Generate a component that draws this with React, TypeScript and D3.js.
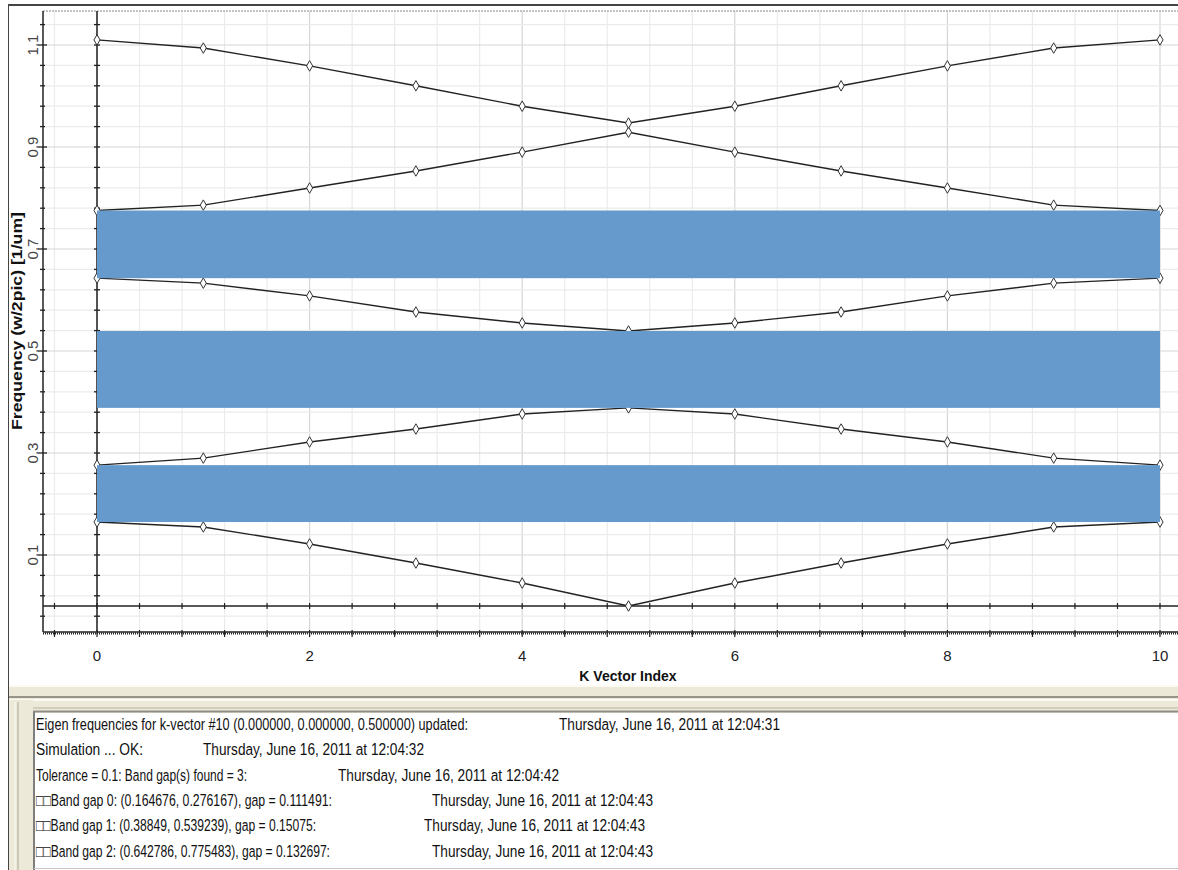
import React from 'react';
import * as d3 from 'd3';

// ---------- data ----------
const kIndex = [0, 1, 2, 3, 4, 5, 6, 7, 8, 9, 10];
const band1 = [0.1647, 0.155, 0.1216, 0.0843, 0.045, 0.0, 0.045, 0.0843, 0.1216, 0.155, 0.1647];
const band2 = [0.2762, 0.29, 0.3216, 0.347, 0.3765, 0.3885, 0.3765, 0.347, 0.3216, 0.29, 0.2762];
const band3 = [0.6428, 0.633, 0.608, 0.5765, 0.555, 0.5392, 0.555, 0.5765, 0.608, 0.633, 0.6428];
const band4 = [0.7755, 0.786, 0.8196, 0.853, 0.89, 0.929, 0.89, 0.853, 0.8196, 0.786, 0.7755];
const band5 = [1.11, 1.094, 1.059, 1.02, 0.98, 0.947, 0.98, 1.02, 1.059, 1.094, 1.11];
const gapLow = [0.164676, 0.38849, 0.642786];
const gapHigh = [0.276167, 0.539239, 0.775483];
const xTickLabels = [0, 2, 4, 6, 8, 10];
const yTickLabels = [0.1, 0.3, 0.5, 0.7, 0.9, 1.1];
const logMessages = [
  'Eigen frequencies for k-vector #10 (0.000000, 0.000000, 0.500000) updated:',
  'Simulation ... OK:',
  'Tolerance = 0.1: Band gap(s) found = 3:',
  '\u25A1\u25A1Band gap 0: (0.164676, 0.276167), gap = 0.111491:',
  '\u25A1\u25A1Band gap 1: (0.38849, 0.539239), gap = 0.15075:',
  '\u25A1\u25A1Band gap 2: (0.642786, 0.775483), gap = 0.132697:',
];
const logTimes = [
  'Thursday, June 16, 2011 at 12:04:31',
  'Thursday, June 16, 2011 at 12:04:32',
  'Thursday, June 16, 2011 at 12:04:42',
  'Thursday, June 16, 2011 at 12:04:43',
  'Thursday, June 16, 2011 at 12:04:43',
  'Thursday, June 16, 2011 at 12:04:43',
];

const bands = [band1, band2, band3, band4, band5];

export default function App() {
  const W = 1178;
  const H = 870;
  const x = d3.scaleLinear().domain([-0.5, 10.5]).range([43.85, 1213.15]);
  const y = d3.scaleLinear().domain([-0.05, 1.167]).range([631.5, 10.83]);
  const plotL = 43, plotT = 11, plotB = 632, plotR = W;

  const xGrid = d3.range(-1, 27).map((i) => ({ v: i * 0.4, major: i % 5 === 0 }));
  const yGrid = d3.range(-3, 27).map((i) => ({ v: 0.1 + i * 0.04, major: i % 5 === 0 }));

  const line = d3
    .line<number>()
    .x((_, i) => x(kIndex[i]))
    .y((d) => y(d));
  const diamond = d3.symbol().type(d3.symbolDiamond).size(32)();

  // layout for log text (pixel positions)
  const msgW = [432, 107, 211, 296, 280, 294];
  const timeX = [559, 203, 338, 432, 424, 432];
  const timeW = 221;
  const font = '"Liberation Sans", Arial, sans-serif';

  return (
    <svg
      width={W}
      height={H}
      style={{ position: 'absolute', left: 0, top: 0, background: '#fff' }}
      fontFamily={font}
    >
      <defs>
        <clipPath id="plotclip">
          <rect x={plotL} y={plotT} width={plotR - plotL} height={plotB - plotT} />
        </clipPath>
      </defs>
      {/* outer frame */}
      <line x1={8} x2={W} y1={5} y2={5} stroke="#444" strokeWidth={2} />
      <line x1={8.5} x2={8.5} y1={4} y2={H} stroke="#444" strokeWidth={1} />

      {/* gridlines */}
      <g clipPath="url(#plotclip)">
        {xGrid.map((g, i) => (
          <line
            key={'xg' + i}
            x1={x(g.v)}
            x2={x(g.v)}
            y1={plotT}
            y2={plotB}
            stroke={g.major ? '#d6d6d6' : '#ebebeb'}
            strokeWidth={1.2}
          />
        ))}
        {yGrid.map((g, i) => (
          <line
            key={'yg' + i}
            x1={plotL}
            x2={plotR}
            y1={y(g.v)}
            y2={y(g.v)}
            stroke={g.major ? '#d6d6d6' : '#ebebeb'}
            strokeWidth={1.2}
          />
        ))}
      </g>

      {/* top dotted border */}
      <line x1={plotL} x2={plotR} y1={plotT} y2={plotT} stroke="#888" strokeWidth={1} strokeDasharray="2 1" />

      {/* left axis */}
      <line x1={plotL} x2={plotL} y1={plotT} y2={plotB} stroke="#222" strokeWidth={1.5} />
      {yGrid.map((g, i) => (
        <line
          key={'lt' + i}
          x1={plotL - (g.major ? 5 : 3)}
          x2={plotL + (g.major ? 4 : 2)}
          y1={y(g.v)}
          y2={y(g.v)}
          stroke="#222"
          strokeWidth={1.3}
        />
      ))}
      {yTickLabels.map((v) => (
        <text
          key={'yl' + v}
          transform={`translate(${32},${y(v)}) rotate(-90)`}
          textAnchor="middle"
          dominantBaseline="central"
          fontSize={15}
          fill="#444"
        >
          {v}
        </text>
      ))}
      <text
        transform={`translate(${17},${321}) rotate(-90)`}
        textAnchor="middle"
        dominantBaseline="central"
        fontSize={14}
        fontWeight="bold"
        fill="#111"
        textLength={218}
        lengthAdjust="spacingAndGlyphs"
      >
        Frequency (w/2pic) [1/um]
      </text>

      {/* vertical zero axis */}
      <line x1={x(0)} x2={x(0)} y1={plotT} y2={plotB} stroke="#222" strokeWidth={1.5} />
      {yGrid.map((g, i) => (
        <line
          key={'vt' + i}
          x1={x(0) - 3}
          x2={x(0) + 3}
          y1={y(g.v)}
          y2={y(g.v)}
          stroke="#222"
          strokeWidth={1.3}
        />
      ))}

      {/* horizontal zero axis */}
      <line x1={plotL} x2={plotR} y1={y(0)} y2={y(0)} stroke="#222" strokeWidth={1.5} />
      {xGrid.map((g, i) => (
        <line
          key={'ht' + i}
          x1={x(g.v)}
          x2={x(g.v)}
          y1={y(0) - 3}
          y2={y(0) + 3}
          stroke="#222"
          strokeWidth={1.2}
        />
      ))}

      {/* bottom axis */}
      <line x1={plotL} x2={plotR} y1={plotB} y2={plotB} stroke="#222" strokeWidth={1.3} />
      <line x1={plotL} x2={plotR} y1={plotB + 1.5} y2={plotB + 1.5} stroke="#222" strokeWidth={2} strokeDasharray="1 1" />
      {xGrid.map((g, i) => (
        <line
          key={'bt' + i}
          x1={x(g.v)}
          x2={x(g.v)}
          y1={plotB - 2}
          y2={plotB + 5}
          stroke="#222"
          strokeWidth={1.2}
        />
      ))}
      {xTickLabels.map((v) => (
        <text key={'xl' + v} x={x(v)} y={655} textAnchor="middle" dominantBaseline="central" fontSize={15} fill="#222">
          {v}
        </text>
      ))}
      <text x={628} y={676} textAnchor="middle" dominantBaseline="central" fontSize={14} fontWeight="bold" fill="#111">
        K Vector Index
      </text>

      {/* band curves */}
      <g clipPath="url(#plotclip)">
        {bands.map((b, bi) => (
          <g key={'b' + bi}>
            <path d={line(b) || ''} fill="none" stroke="#222" strokeWidth={1.4} />
            {b.map((v, i) => (
              <path
                key={i}
                d={diamond}
                transform={`translate(${x(kIndex[i])},${y(v)})`}
                fill="#fff"
                stroke="#333"
                strokeWidth={1}
              />
            ))}
          </g>
        ))}
        {/* band gaps */}
        {gapLow.map((lo, i) => (
          <rect
            key={'gap' + i}
            x={x(kIndex[0])}
            width={x(kIndex[kIndex.length - 1]) - x(kIndex[0])}
            y={y(gapHigh[i])}
            height={y(lo) - y(gapHigh[i])}
            fill="#6699cc"
          />
        ))}
      </g>

      {/* splitter */}
      <rect x={9} y={685} width={W - 9} height={28} fill="#ece9d8" />
      <line x1={9} x2={W} y1={686} y2={686} stroke="#fbfaf3" strokeWidth={2} />
      <line x1={9} x2={W} y1={697} y2={697} stroke="#7b796c" strokeWidth={1.5} />
      <line x1={9} x2={W} y1={700} y2={700} stroke="#fbfaf3" strokeWidth={2} />
      <line x1={9} x2={W} y1={708} y2={708} stroke="#d2cebc" strokeWidth={2} />
      <line x1={9} x2={W} y1={711.5} y2={711.5} stroke="#8f8e86" strokeWidth={2} />
      {/* left beige strip */}
      <rect x={9} y={700} width={24} height={H - 700} fill="#ece9d8" />
      <line x1={15} x2={15} y1={702} y2={H} stroke="#fbfaf3" strokeWidth={1} />
      <line x1={18} x2={18} y1={702} y2={H} stroke="#aca899" strokeWidth={1} />
      {/* log box */}
      <rect x={34} y={713} width={W - 34} height={156} fill="#fff" />
      <line x1={34} x2={34} y1={712} y2={H} stroke="#7f7f7f" strokeWidth={2} />
      <line x1={34} x2={W} y1={868.5} y2={868.5} stroke="#c8c8c8" strokeWidth={1} />

      {logMessages.map((m, i) => {
        const base = 730 + i * 25.3;
        return (
          <g key={'log' + i} fontSize={12.5} fill="#111">
            <text
              transform={`translate(36,${base}) scale(1,1.35)`}
              textLength={msgW[i]}
              lengthAdjust="spacingAndGlyphs"
            >
              {m}
            </text>
            <text
              transform={`translate(${timeX[i]},${base}) scale(1,1.35)`}
              textLength={timeW}
              lengthAdjust="spacingAndGlyphs"
            >
              {logTimes[i]}
            </text>
          </g>
        );
      })}
    </svg>
  );
}
